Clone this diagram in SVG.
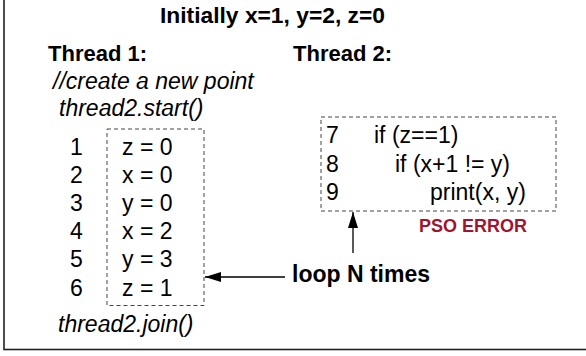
<svg xmlns="http://www.w3.org/2000/svg" width="586" height="356" viewBox="0 0 586 356">
<style>
text{font-family:"Liberation Sans",Arial,sans-serif;fill:#000}
.b{font-weight:bold;font-size:22px}
.i{font-style:italic;font-size:23px}
.c{font-size:23px}
.dash{fill:none;stroke:#444;stroke-width:1;stroke-dasharray:4 3}
.conn{stroke:#000;stroke-width:1.3;fill:none}
</style>
<defs>
<marker id="ah" viewBox="0 0 16 10" refX="16" refY="5" markerWidth="16" markerHeight="10" markerUnits="userSpaceOnUse" orient="auto">
<path d="M0,0 L16,5 L0,10 Z" fill="#000"/>
</marker>
</defs>
<rect x="0" y="0" width="586" height="356" fill="#fff"/>
<rect x="4" y="-10" width="600" height="359.5" fill="none" stroke="#222" stroke-width="1.6"/>
<g id="title"><text class="b" x="160" y="23" font-size="22.8" style="font-size:22.8px">Initially x=1, y=2, z=0</text></g>
<g id="thread1">
<text class="b" x="48" y="61">Thread 1:</text>
<text class="i" x="53" y="89">//create a new point</text>
<text class="i" x="59" y="116">thread2.start()</text>
<g id="t1-box">
<rect class="dash" x="107" y="129" width="97" height="176.5"/>
<text class="c" x="70" y="154.5">1</text><text class="c" x="122" y="154.5">z = 0</text>
<text class="c" x="70" y="182.7">2</text><text class="c" x="122" y="182.7">x = 0</text>
<text class="c" x="70" y="210.9">3</text><text class="c" x="122" y="210.9">y = 0</text>
<text class="c" x="70" y="239.1">4</text><text class="c" x="122" y="239.1">x = 2</text>
<text class="c" x="70" y="267.3">5</text><text class="c" x="122" y="267.3">y = 3</text>
<text class="c" x="70" y="295.5">6</text><text class="c" x="122" y="295.5">z = 1</text>
</g>
<text class="i" x="58" y="332">thread2.join()</text>
</g>
<g id="thread2">
<text class="b" x="293" y="61">Thread 2:</text>
<g id="t2-box">
<rect class="dash" x="321" y="117" width="235" height="94"/>
<text class="c" x="326" y="143">7</text><text class="c" x="374" y="143">if (z==1)</text>
<text class="c" x="326" y="172">8</text><text class="c" x="395" y="172">if (x+1 != y)</text>
<text class="c" x="326" y="200">9</text><text class="c" x="430" y="200">print(x, y)</text>
</g>
</g>
<g id="pso-error"><text x="419" y="232" font-weight="bold" style="font-size:18px;fill:#a0142e">PSO ERROR</text></g>
<g id="loop-label"><text class="b" x="292" y="282" style="font-size:23px">loop N times</text></g>
<g id="connectors">
<line class="conn" x1="285" y1="277" x2="205" y2="277" marker-end="url(#ah)"/>
<line class="conn" x1="353" y1="253" x2="353" y2="212" marker-end="url(#ah)"/>
</g>
</svg>
